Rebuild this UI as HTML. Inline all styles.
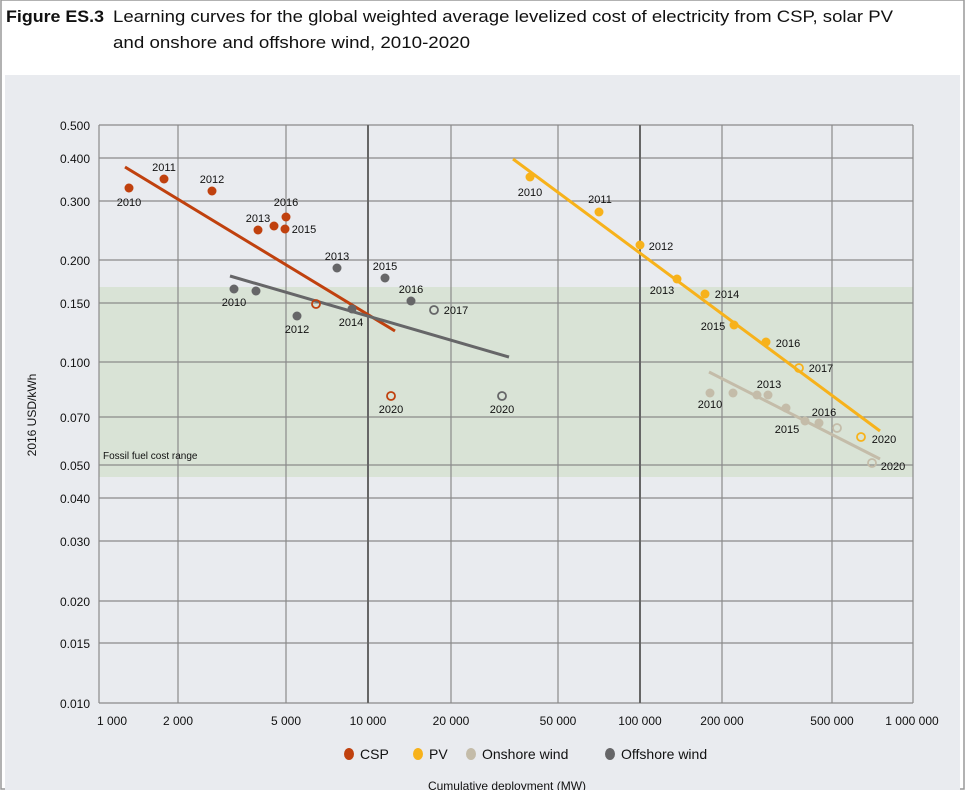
<!DOCTYPE html>
<html><head><meta charset="utf-8"><style>
body{margin:0;background:#fff;width:965px;height:790px;overflow:hidden;font-family:"Liberation Sans",sans-serif}
</style></head><body>
<svg width="965" height="790" xmlns="http://www.w3.org/2000/svg" font-family="Liberation Sans, sans-serif">
<rect x="0" y="0" width="965" height="790" fill="#fff"/>
<rect x="1" y="0" width="963" height="789" fill="none" stroke="#999" stroke-width="1.5"/>
<text x="6" y="22" font-size="17" font-weight="bold" fill="#111" textLength="98" lengthAdjust="spacingAndGlyphs">Figure ES.3</text>
<text x="113" y="22" font-size="17" fill="#111" textLength="780" lengthAdjust="spacingAndGlyphs">Learning curves for the global weighted average levelized cost of electricity from CSP, solar PV</text>
<text x="113" y="48" font-size="17" fill="#111" textLength="357" lengthAdjust="spacingAndGlyphs">and onshore and offshore wind, 2010-2020</text>
<rect x="5" y="75" width="955" height="715" fill="#e9ebef"/>
<rect x="99" y="287" width="814" height="190" fill="#d9e3d6"/>
<g stroke="#8a8a8a" stroke-width="1.2">
<line x1="99" y1="125" x2="913" y2="125"/><line x1="99" y1="158" x2="913" y2="158"/><line x1="99" y1="201" x2="913" y2="201"/><line x1="99" y1="260" x2="913" y2="260"/><line x1="99" y1="303" x2="913" y2="303"/><line x1="99" y1="362" x2="913" y2="362"/><line x1="99" y1="417" x2="913" y2="417"/><line x1="99" y1="465" x2="913" y2="465"/><line x1="99" y1="498" x2="913" y2="498"/><line x1="99" y1="541" x2="913" y2="541"/><line x1="99" y1="601" x2="913" y2="601"/><line x1="99" y1="643" x2="913" y2="643"/><line x1="99" y1="703" x2="913" y2="703"/>
<line x1="99" y1="125" x2="99" y2="703"/><line x1="178" y1="125" x2="178" y2="703"/><line x1="286" y1="125" x2="286" y2="703"/><line x1="451" y1="125" x2="451" y2="703"/><line x1="558" y1="125" x2="558" y2="703"/><line x1="722" y1="125" x2="722" y2="703"/><line x1="832" y1="125" x2="832" y2="703"/><line x1="913" y1="125" x2="913" y2="703"/>
</g>
<g stroke="#666" stroke-width="2"><line x1="368" y1="125" x2="368" y2="703"/><line x1="640" y1="125" x2="640" y2="703"/></g>
<g font-size="12" fill="#111" text-anchor="end">
<text x="90" y="130">0.500</text><text x="90" y="163">0.400</text><text x="90" y="206">0.300</text><text x="90" y="265">0.200</text><text x="90" y="308">0.150</text><text x="90" y="367">0.100</text><text x="90" y="422">0.070</text><text x="90" y="470">0.050</text><text x="90" y="503">0.040</text><text x="90" y="546">0.030</text><text x="90" y="606">0.020</text><text x="90" y="648">0.015</text><text x="90" y="708">0.010</text>
</g>
<g font-size="12" fill="#111" text-anchor="middle">
<text x="112" y="725">1 000</text><text x="178" y="725">2 000</text><text x="286" y="725">5 000</text><text x="368" y="725">10 000</text><text x="451" y="725">20 000</text><text x="558" y="725">50 000</text><text x="640" y="725">100 000</text><text x="722" y="725">200 000</text><text x="832" y="725">500 000</text><text x="912" y="725">1 000 000</text>
</g>
<text x="36" y="415" font-size="12" fill="#111" text-anchor="middle" transform="rotate(-90 36 415)">2016 USD/kWh</text>
<text x="103" y="459" font-size="10" fill="#111">Fossil fuel cost range</text>
<!-- lines -->
<line x1="125" y1="167" x2="395" y2="331" stroke="#c0410e" stroke-width="3"/>
<line x1="230" y1="276" x2="509" y2="357" stroke="#666668" stroke-width="3"/>
<line x1="513" y1="159" x2="880" y2="431" stroke="#f7b21b" stroke-width="3"/>
<line x1="709" y1="372" x2="880" y2="459" stroke="#c4bca9" stroke-width="3"/>
<!-- CSP -->
<g fill="#c0410e"><circle cx="129" cy="188" r="4.5"/><circle cx="164" cy="179" r="4.5"/><circle cx="212" cy="191" r="4.5"/><circle cx="258" cy="230" r="4.5"/><circle cx="274" cy="226" r="4.5"/><circle cx="285" cy="229" r="4.5"/><circle cx="286" cy="217" r="4.5"/></g>
<g fill="none" stroke="#c0410e" stroke-width="1.8"><circle cx="316" cy="304" r="4"/><circle cx="391" cy="396" r="4"/></g>
<!-- Offshore -->
<g fill="#666668"><circle cx="234" cy="289" r="4.5"/><circle cx="256" cy="291" r="4.5"/><circle cx="297" cy="316" r="4.5"/><circle cx="337" cy="268" r="4.5"/><circle cx="385" cy="278" r="4.5"/><circle cx="411" cy="301" r="4.5"/><circle cx="352" cy="309" r="4.5"/></g>
<g fill="none" stroke="#666668" stroke-width="1.8"><circle cx="434" cy="310" r="4"/><circle cx="502" cy="396" r="4"/></g>
<!-- PV -->
<g fill="#f7b21b"><circle cx="530" cy="177" r="4.5"/><circle cx="599" cy="212" r="4.5"/><circle cx="640" cy="245" r="4.5"/><circle cx="677" cy="279" r="4.5"/><circle cx="705" cy="294" r="4.5"/><circle cx="734" cy="325" r="4.5"/><circle cx="766" cy="342" r="4.5"/></g>
<g fill="none" stroke="#f7b21b" stroke-width="1.8"><circle cx="799" cy="368" r="4"/><circle cx="861" cy="437" r="4"/></g>
<!-- Onshore -->
<g fill="#c4bca9"><circle cx="710" cy="393" r="4.5"/><circle cx="733" cy="393" r="4.5"/><circle cx="757" cy="395" r="4.5"/><circle cx="768" cy="395" r="4.5"/><circle cx="786" cy="408" r="4.5"/><circle cx="805" cy="421" r="4.5"/><circle cx="819" cy="423" r="4.5"/></g>
<g fill="none" stroke="#c4bca9" stroke-width="1.8"><circle cx="837" cy="428" r="4"/><circle cx="872" cy="463" r="4"/></g>
<!-- labels -->
<g font-size="11" fill="#111" text-anchor="middle">
<text x="129" y="206">2010</text><text x="164" y="171">2011</text><text x="212" y="183">2012</text><text x="258" y="222">2013</text><text x="286" y="206">2016</text><text x="304" y="233">2015</text><text x="391" y="413">2020</text>
<text x="234" y="306">2010</text><text x="297" y="333">2012</text><text x="337" y="260">2013</text><text x="351" y="326">2014</text><text x="385" y="270">2015</text><text x="411" y="293">2016</text><text x="456" y="314">2017</text><text x="502" y="413">2020</text>
<text x="530" y="196">2010</text><text x="600" y="203">2011</text><text x="661" y="250">2012</text><text x="662" y="294">2013</text><text x="727" y="298">2014</text><text x="713" y="330">2015</text><text x="788" y="347">2016</text><text x="821" y="372">2017</text><text x="884" y="443">2020</text>
<text x="710" y="408">2010</text><text x="769" y="388">2013</text><text x="787" y="433">2015</text><text x="824" y="416">2016</text><text x="893" y="470">2020</text>
</g>
<!-- legend -->
<g font-size="14" fill="#111">
<ellipse cx="349" cy="754" rx="5" ry="6" fill="#c0410e"/><text x="360" y="759">CSP</text>
<ellipse cx="418" cy="754" rx="5" ry="6" fill="#f7b21b"/><text x="429" y="759">PV</text>
<ellipse cx="471" cy="754" rx="5" ry="6" fill="#c4bca9"/><text x="482" y="759">Onshore wind</text>
<ellipse cx="610" cy="754" rx="5" ry="6" fill="#666668"/><text x="621" y="759">Offshore wind</text>
</g>
<text x="507" y="790" font-size="12" fill="#111" text-anchor="middle">Cumulative deployment (MW)</text>
</svg>
</body></html>
